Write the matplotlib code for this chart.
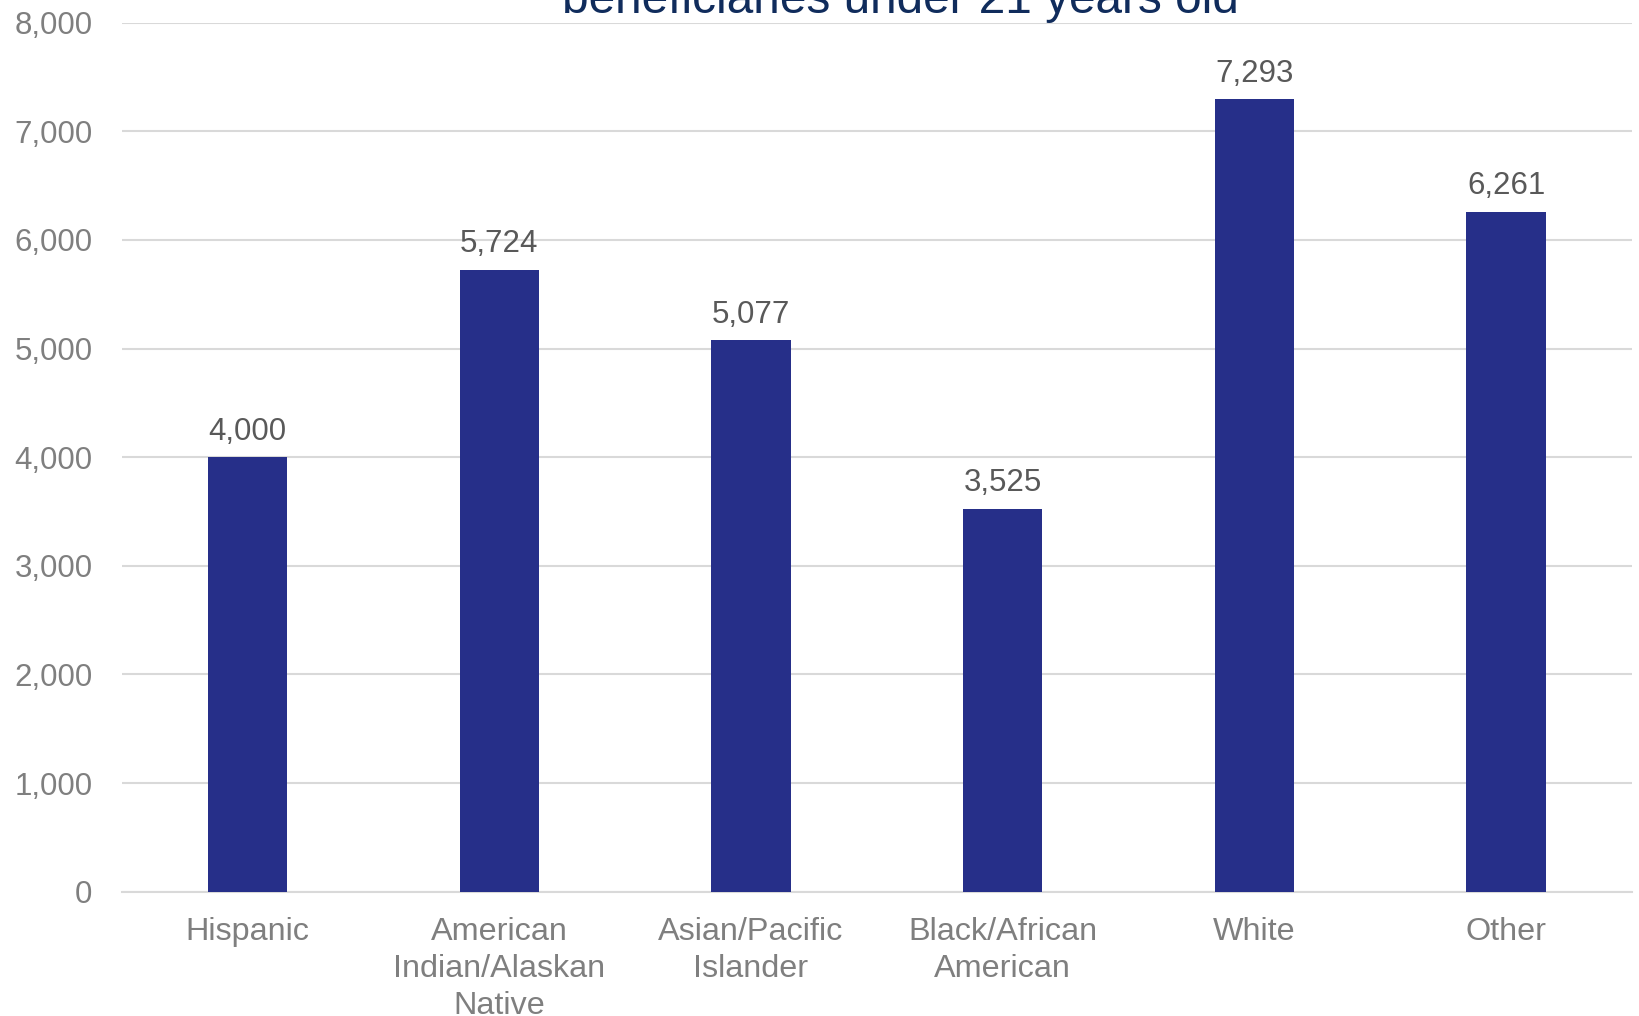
import matplotlib
matplotlib.use("Agg")
import matplotlib.pyplot as plt
from matplotlib.ticker import FuncFormatter, MultipleLocator

categories = ["Hispanic", "American\nIndian/Alaskan\nNative", "Asian/Pacific\nIslander",
              "Black/African\nAmerican", "White", "Other"]
values = [4000, 5724, 5077, 3525, 7293, 6261]
title_visible = "beneficiaries under 21 years old"

plt.rcParams['font.family'] = ['Liberation Sans', 'DejaVu Sans']

fig = plt.figure(figsize=(16.39, 10.16), dpi=100)
ax = fig.add_axes([121.7/1639, 1 - 891.7/1016, (1632-121.7)/1639, (891.7-22.7)/1016])

x = list(range(len(categories)))
bars = ax.bar(x, values, width=0.315, color='#262F89', zorder=3)

ax.set_xlim(-0.5, len(categories) - 0.5)
ax.set_ylim(0, 8000)
ax.yaxis.set_major_locator(MultipleLocator(1000))
ax.yaxis.set_major_formatter(FuncFormatter(lambda v, p: f"{int(v):,}"))
ax.grid(axis='y', color='#D9D9D9', linewidth=1.5, zorder=0)
ax.set_axisbelow(True)
for s in ['top', 'right', 'left']:
    ax.spines[s].set_visible(False)
ax.spines['bottom'].set_color('#D9D9D9')
ax.spines['bottom'].set_linewidth(1.5)

ax.set_xticks(x)
ax.set_xticklabels(categories, fontsize=23.3, color='#7F7F7F', linespacing=1.29)
ax.tick_params(axis='x', length=0, pad=18.5)
ax.tick_params(axis='y', length=0, pad=21, labelsize=22.5, labelcolor='#7F7F7F')

for xi, v in zip(x, values):
    ax.annotate(f"{v:,}", (xi, v), xytext=(0, 12.7), textcoords='offset points',
                ha='center', va='baseline', fontsize=22.5, color='#595959')

fig.text(900/1639, 1 - 12.7/1016, title_visible, ha='center', va='baseline',
         fontsize=34.4, color='#102C5C')

fig.savefig("out.png", dpi=100)
